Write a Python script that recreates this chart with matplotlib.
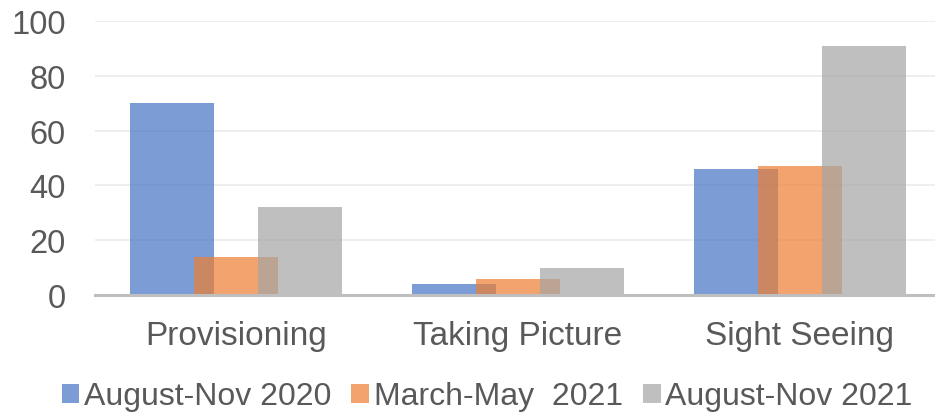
import matplotlib
matplotlib.use("Agg")
import matplotlib.pyplot as plt
import numpy as np

categories = ["Provisioning", "Taking Picture", "Sight Seeing"]
series_names = ["August-Nov 2020", "March-May  2021", "August-Nov 2021"]
aug_nov_2020 = [70, 4, 46]
mar_may_2021 = [14, 6, 47]
aug_nov_2021 = [32, 10, 91]
colors = ["#4472C4", "#ED7D31", "#A5A5A5"]
yticks = [0, 20, 40, 60, 80, 100]

plt.rcParams['font.family'] = ['Liberation Sans', 'DejaVu Sans']

fig = plt.figure(figsize=(9.35, 4.14), dpi=100)
ax = fig.add_axes([95/935, (414-296)/414, 846/935, 274/414])

x = np.arange(len(categories))
width = 0.30
step = 0.227
all_series = [aug_nov_2020, mar_may_2021, aug_nov_2021]
for i, (vals, name, c) in enumerate(zip(all_series, series_names, colors)):
    ax.bar(x + (i - 1) * step, vals, width=width, color=c, alpha=0.7,
           label=name, zorder=2 + i, linewidth=0)

ax.set_xlim(-0.5, 2.5)
ax.set_ylim(0, 100)
ax.set_yticks(yticks)
ax.set_xticks(x)
ax.set_xticklabels(categories)
ax.grid(axis='y', color='#EBEBEB', linewidth=1.2, zorder=0)
ax.set_axisbelow(True)
for s in ['top', 'right', 'left']:
    ax.spines[s].set_visible(False)
ax.spines['bottom'].set_color('#BFBFBF')
ax.spines['bottom'].set_linewidth(2.2)
ax.spines['bottom'].set_zorder(10)
ax.tick_params(axis='y', length=0, pad=21, labelsize=23.5, labelcolor='#595959')
ax.tick_params(axis='x', length=0, pad=18, labelsize=24, labelcolor='#595959')

leg = fig.legend(loc='center', ncol=3, frameon=False, fontsize=23,
                 bbox_to_anchor=(0.521, 0.04), handlelength=0.55, handleheight=0.55,
                 handletextpad=0.15, columnspacing=0.63, labelcolor='#595959')

fig.savefig("out.png", dpi=100)
